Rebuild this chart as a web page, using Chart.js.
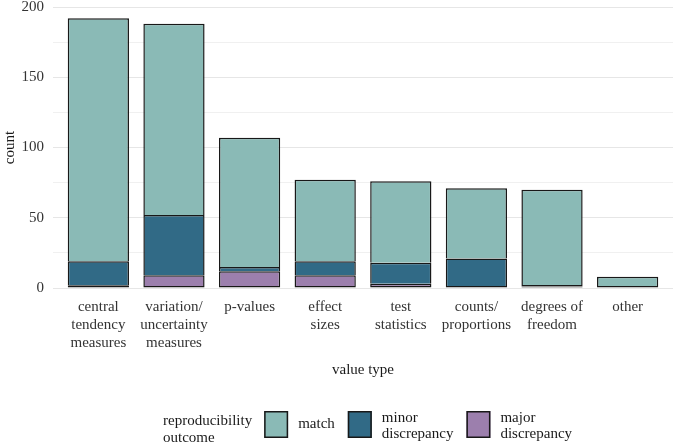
<!DOCTYPE html>
<html>
<head>
<meta charset="utf-8">
<script src="https://cdn.jsdelivr.net/npm/chart.js@4.4.1/dist/chart.umd.min.js"></script>
<style>
    html, body { margin: 0; padding: 0; background: #fff; }
</style>
</head>
<body>
<canvas id="myChart" width="673" height="446"></canvas>
<script>
// données
const categories = [
    ['central', 'tendency', 'measures'],
    ['variation/', 'uncertainty', 'measures'],
    ['p-values'],
    ['effect', 'sizes'],
    ['test', 'statistics'],
    ['counts/', 'proportions'],
    ['degrees of', 'freedom'],
    ['other']
];
const matchCounts = [173, 136, 92, 58, 58, 50, 69, 8];
const minorCounts = [17, 43, 3, 10, 15, 21, 1, 0];
const majorCounts = [2, 9, 12, 9, 3, 0, 0, 0];
const yTickLabels = [0, 50, 100, 150, 200];

const legendTitle = ['reproducibility', 'outcome'];
const matchLabel = ['match'];
const minorLabel = ['minor', 'discrepancy'];
const majorLabel = ['major', 'discrepancy'];

const colors = { match: '#8abab6', minor: '#316a86', major: '#9c7fad', border: '#181818' };

Chart.defaults.font.family = "'Liberation Serif', 'Times New Roman', serif";
Chart.defaults.font.size = 15;
Chart.defaults.color = '#333';

// on ne garde que les valeurs > 0 (pas de segment vide)
function toPoints(values) {
    let pts = [];
    values.forEach((v, i) => { if (v > 0) pts.push({ x: i + 1, y: v }); });
    return pts;
}

// l'ordre bas -> haut : major, minor, match
const stackOrder = [majorCounts, minorCounts, matchCounts];

// bordure du bas : premier segment non vide, ou segment posé sur un segment très fin
function skipBorder(ctx) {
    const idx = ctx.raw ? ctx.raw.x - 1 : 0;
    let below = 0;
    for (let d = 0; d < ctx.datasetIndex; d++) {
        if (stackOrder[d][idx] > 0) below = stackOrder[d][idx];
    }
    if (below === 0 || below < 2) return false;
    return 'start';
}

// légende dessinée à la façon ggplot (titre à gauche, libellés sur 2 lignes)
const ggLegend = {
    id: 'ggLegend',
    afterDraw(chart) {
        const ctx = chart.ctx;
        ctx.save();
        ctx.font = "15px 'Liberation Serif', serif";
        ctx.textBaseline = 'middle';
        ctx.textAlign = 'left';
        ctx.fillStyle = '#1a1a1a';
        let x = 163;
        ctx.fillText(legendTitle[0], x, 421);
        ctx.fillText(legendTitle[1], x, 438);
        x += Math.max(...legendTitle.map(t => ctx.measureText(t).width)) + 12;

        const items = chart.data.datasets.slice().reverse();
        items.forEach(ds => {
            ctx.fillStyle = ds.backgroundColor;
            ctx.fillRect(x, 411, 24, 27);
            ctx.strokeStyle = colors.border;
            ctx.lineWidth = 1.5;
            ctx.strokeRect(x + 0.75, 411.75, 22.5, 25.5);
            x += 24 + 10;
            ctx.fillStyle = '#1a1a1a';
            const lines = ds.legendLines;
            if (lines.length === 1) {
                ctx.fillText(lines[0], x, 424);
            } else {
                ctx.fillText(lines[0], x, 418);
                ctx.fillText(lines[1], x, 434.5);
            }
            x += Math.max(...lines.map(t => ctx.measureText(t).width)) + 13;
        });
        ctx.restore();
    }
};

const barStyle = {
    borderColor: colors.border,
    borderWidth: 1.5,
    borderSkipped: skipBorder,
    categoryPercentage: 1,
    barPercentage: 0.81
};

const ctx = document.getElementById('myChart').getContext('2d');
const myChart = new Chart(ctx, {
    type: 'bar',
    data: {
        datasets: [
            Object.assign({ label: 'major discrepancy', legendLines: majorLabel, data: toPoints(majorCounts), backgroundColor: colors.major }, barStyle),
            Object.assign({ label: 'minor discrepancy', legendLines: minorLabel, data: toPoints(minorCounts), backgroundColor: colors.minor }, barStyle),
            Object.assign({ label: 'match', legendLines: matchLabel, data: toPoints(matchCounts), backgroundColor: colors.match }, barStyle)
        ]
    },
    options: {
        responsive: false,
        animation: false,
        layout: { padding: { top: 7, right: 0, bottom: 60, left: 0 } },
        plugins: {
            legend: { display: false },
            tooltip: { enabled: false }
        },
        scales: {
            x: {
                type: 'linear',
                stacked: true,
                offset: false,
                min: 0.4,
                max: 8.6,
                grid: { display: false, offset: false },
                border: { display: false },
                afterBuildTicks: (scale) => {
                    scale.ticks = categories.map((_, i) => ({ value: i + 1 }));
                },
                afterFit: (scale) => { scale.height = 98; },
                ticks: {
                    padding: 2,
                    maxRotation: 0,
                    autoSkip: false,
                    color: '#333',
                    font: { size: 15, lineHeight: 1.2 },
                    callback: (value) => categories[value - 1] || ''
                },
                title: {
                    display: true,
                    text: 'value type',
                    color: '#1a1a1a',
                    font: { size: 15, lineHeight: 1.2 },
                    padding: { top: 10, bottom: 7 }
                }
            },
            y: {
                stacked: true,
                min: 0,
                max: 200,
                border: { display: false },
                afterFit: (scale) => {
                    scale.width = 53;
                    // pas de marge auto pour le libellé "200"
                    scale.paddingTop = 0;
                    scale.paddingBottom = 0;
                },
                grid: {
                    drawTicks: false,
                    lineWidth: 1,
                    color: (c) => (c.tick && c.tick.value % 50 === 0) ? '#e6e6e6' : '#f0f0f0'
                },
                ticks: {
                    stepSize: 25,
                    padding: 9,
                    color: '#333',
                    font: { size: 15 },
                    callback: (v) => yTickLabels.includes(v) ? String(v) : ''
                },
                title: {
                    display: true,
                    text: 'count',
                    color: '#1a1a1a',
                    font: { size: 15, lineHeight: 1.2 },
                    padding: { top: 1, bottom: 0 }
                }
            }
        }
    },
    plugins: [ggLegend]
});
</script>
</body>
</html>
